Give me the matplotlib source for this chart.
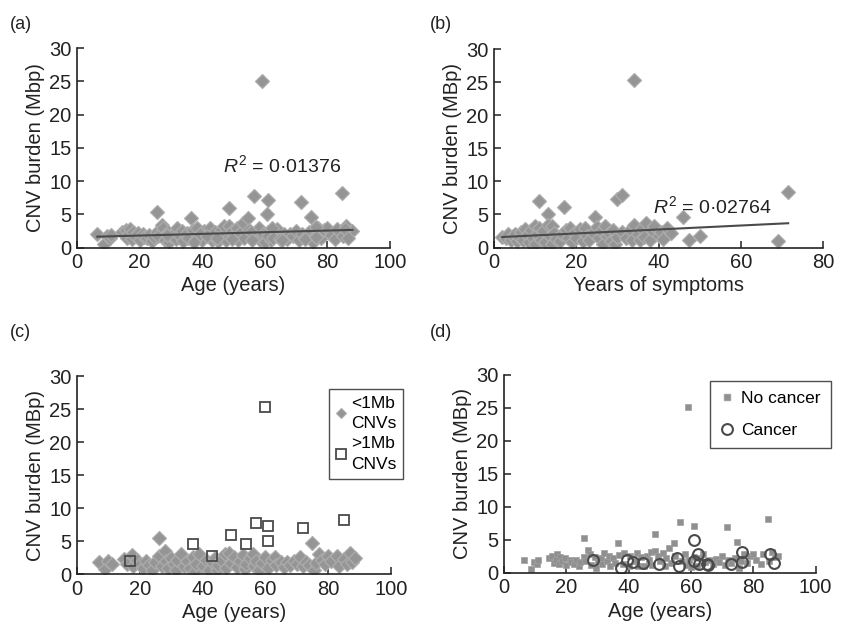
"""CNV burden vs age / years of symptoms - four panel scatter figure."""
import matplotlib
matplotlib.use("Agg")
import numpy as np
import matplotlib.pyplot as plt
from matplotlib.lines import Line2D

plt.rcParams["font.family"] = ["Liberation Sans", "DejaVu Sans"]
plt.rcParams["mathtext.fontset"] = "custom"
plt.rcParams["mathtext.rm"] = "Liberation Sans"
plt.rcParams["mathtext.it"] = "Liberation Sans:italic"

# ---- data -------------------------------------------------------------------
# (d) patients without cancer: age, total CNV burden (Mbp)
age_nocancer = [6.5, 8.5, 9.5, 10.5, 11, 14.5, 15.5, 16, 16.5, 17, 17.5, 18, 18.5,
                19.5, 20, 21, 21.5, 22.5, 23, 24, 24.5, 25.5, 25.5, 26, 27, 27.5,
                28, 29, 29.5, 30, 31, 31.5, 32, 33, 33.5, 34, 35, 35.5, 36.5, 37,
                38, 38.5, 40, 40.5, 42, 42.5, 43, 44, 45, 46, 46.5, 47, 47.5, 48.5,
                48.5, 49.5, 50, 51, 51.5, 52, 53, 53.5, 54.5, 55, 56.5, 57, 58,
                58.5, 59, 59.5, 60, 61, 61, 62, 63, 64, 64.5, 66, 67, 68, 69, 70,
                71, 71.5, 72, 73, 74, 74.9, 75.5, 76, 77, 78, 79, 80, 81, 82.5, 83,
                84.6, 85, 86, 87, 88]
cnv_nocancer = [2.0, 0.6, 1.7, 1.4, 1.9, 2.3, 2.6, 1.5, 2.0, 2.8, 1.3, 2.4, 1.8,
                2.2, 1.2, 2.0, 1.6, 1.4, 1.9, 1.0, 1.6, 5.3, 2.4, 1.8, 3.4, 2.9,
                1.2, 2.4, 0.8, 1.7, 2.2, 1.3, 3.0, 1.8, 2.5, 1.0, 2.2, 1.5, 4.5, 2.7,
                1.3, 3.0, 1.1, 2.5, 1.8, 3.0, 1.1, 2.4, 1.0, 2.6, 1.9, 3.2, 1.2, 5.9,
                3.3, 2.5, 1.8, 3.0, 1.1, 2.2, 3.7, 1.5, 4.5, 2.6, 7.7, 1.8, 2.9,
                1.2, 25.1, 2.0, 0.9, 7.1, 2.4, 1.1, 2.2, 2.8, 1.6, 2.0, 1.3, 2.1, 1.7, 2.5,
                1.2, 6.9, 2.0, 1.5, 2.3, 4.6, 0.8, 1.8, 2.9, 1.5, 2.6, 2.9, 1.9, 1.3, 2.8,
                8.2, 1.8, 3.2, 2.4, 2.5]
# (d) patients with cancer
age_cancer = [28.6, 37.5, 39.3, 41.5, 44.7, 49.6, 55.6, 56, 60.8, 60.9, 62.4, 62.7,
              65, 65.6, 72.7, 76.5, 76.5, 85.5, 86.5]
cnv_cancer = [1.9, 0.8, 2.0, 1.7, 1.5, 1.3, 2.3, 1.1, 5.0, 1.8, 2.9, 1.4,
              1.3, 1.2, 1.3, 3.1, 1.6, 2.8, 1.5]

# (a) linear fit shown on the panel: intercept, slope
fit_a = (1.55, 0.0125)
r2_a = "0·01376"

# (b) years of symptoms vs CNV burden
years_b = [2, 3, 3.5, 4, 4.5, 5, 5.5, 6, 6.5, 7, 7.5, 8, 8.5, 9, 9.5, 10, 10, 10.5,
           11, 11, 11.5, 12, 12.5, 13, 13, 13.5, 14, 14, 14.5, 15, 16, 16.5, 17,
           17.5, 18, 18.5, 19, 19.5, 20, 21, 21.5, 22, 22.5, 23, 24, 24.5, 25, 25.5,
           26, 26.5, 27, 27.5, 28, 28.5, 29, 29.5, 30, 30, 31, 31, 32, 33, 33.5, 34,
           34, 35, 35.5, 36, 36.5, 37, 38, 38.5, 39, 40, 40.5, 41, 42, 43, 46, 47.5,
           50, 69, 71.5]
cnv_b = [1.6, 1.4, 2.0, 1.2, 1.8, 2.1, 1.0, 1.6, 2.4, 1.1, 2.8, 1.9, 0.8, 2.6, 1.4,
         3.2, 0.5, 2.1, 7.0, 3.0, 1.2, 2.5, 0.9, 5.1, 3.4, 1.8, 3.2, 0.6, 2.2, 1.3,
         1.0, 2.0, 6.1, 2.6, 1.5, 3.0, 0.8, 2.2, 1.5, 2.8, 1.0, 3.0, 1.8, 1.2, 2.2,
         4.6, 3.1, 1.4, 2.5, 0.6, 3.3, 1.7, 2.2, 1.0, 2.7, 0.6, 7.3, 1.6, 8.0, 2.3,
         1.4, 2.6, 1.2, 25.3, 3.4, 2.0, 1.1, 3.0, 1.6, 3.7, 1.2, 2.6, 3.2, 1.8, 2.4,
         1.3, 3.0, 2.2, 4.6, 1.2, 1.8, 1.0, 8.4]
fit_b = (1.53, 0.030)
r2_b = "0·02764"

# (c) burden split by CNV size
age_small = [7, 9, 10, 11, 15, 16, 17.5, 18, 19, 20, 21, 22, 23, 24, 25, 26, 26, 27,
             28, 28.5, 29, 30, 31, 31.5, 32, 33, 34, 35, 36, 37, 37.5, 38, 39, 40,
             41, 42, 43, 44, 44.5, 45, 46, 47, 47.5, 48.5, 49, 50, 51, 52, 53, 53.5,
             54, 55, 56, 56.5, 57, 58, 59, 60, 61, 62, 63, 63.5, 65, 66, 67, 68, 69,
             70, 71, 72, 73, 74, 75, 75.5, 76, 77, 78, 79, 80, 81, 83, 83.5, 85, 86,
             87, 87.5, 88.5]
cnv_small = [1.8, 0.8, 2.0, 1.6, 2.3, 1.5, 2.9, 1.3, 2.2, 1.6, 1.0, 2.0, 1.4, 0.6,
             1.8, 5.4, 2.7, 1.2, 3.5, 2.0, 0.9, 2.4, 1.5, 0.6, 2.2, 3.0, 1.3, 2.0,
             1.0, 2.6, 0.5, 1.6, 3.0, 1.2, 2.2, 0.7, 1.8, 2.5, 0.6, 1.4, 2.1, 3.1,
             1.0, 3.2, 1.7, 2.6, 1.1, 2.0, 2.9, 0.8, 1.6, 2.5, 3.0, 1.2, 2.0, 0.6,
             1.7, 2.6, 1.0, 2.2, 2.6, 1.4, 1.9, 1.1, 1.8, 1.4, 2.0, 1.6, 2.6, 1.2,
             1.9, 1.4, 4.7, 0.6, 1.7, 3.1, 2.2, 1.5, 2.8, 2.0, 2.8, 1.3, 2.3, 1.6,
             3.2, 1.8, 2.4]
age_large = [17, 37, 43, 49, 54, 57, 60, 61, 61, 72, 85]
cnv_large = [2.0, 4.5, 2.8, 6.0, 4.5, 7.7, 25.3, 7.3, 5.0, 7.0, 8.2]

# combined patients for panel (a)
age_a = age_nocancer + age_cancer
cnv_a = cnv_nocancer + cnv_cancer

# ---- styling -----------------------------------------------------------------
GREY = "#959595"
EDGE = "#acacac"
DARK = "#4a4a4a"
diamond = dict(ls="none", marker="D", ms=6.8, mfc=GREY, mec=EDGE, mew=0.9)

fig = plt.figure(figsize=(8.46, 6.33), dpi=100, facecolor="white")
ax_a = fig.add_axes([0.091, 0.609, 0.370, 0.315])
ax_b = fig.add_axes([0.584, 0.609, 0.389, 0.313])
ax_c = fig.add_axes([0.091, 0.093, 0.371, 0.313])
ax_d = fig.add_axes([0.596, 0.095, 0.368, 0.313])


def style(ax, xmax, xstep, ylabel, xlabel):
    ax.set_xlim(0, xmax)
    ax.set_ylim(0, 30)
    ax.set_xticks(np.arange(0, xmax + 1, xstep))
    ax.set_yticks(np.arange(0, 31, 5))
    for s in ("top", "right"):
        ax.spines[s].set_visible(False)
    for s in ("left", "bottom"):
        ax.spines[s].set_color("#222222")
        ax.spines[s].set_linewidth(1.2)
    ax.tick_params(direction="in", length=5, width=1.1, color="#222222",
                   labelsize=14.5, labelcolor="#222222", pad=4)
    ax.set_ylabel(ylabel, fontsize=14.5, color="#222222", labelpad=3)
    ax.set_xlabel(xlabel, fontsize=14.5, color="#222222", labelpad=3)


# (a)
ax_a.plot(age_a, cnv_a, **diamond)
xs = np.array([min(age_a), max(age_a)])
ax_a.plot(xs, fit_a[0] + fit_a[1] * xs, color=DARK, lw=1.5)
ax_a.text(46.5, 12.4, r"$R^2$" + " = " + r2_a, fontsize=14, color="#222222",
          va="center")
style(ax_a, 100, 20, "CNV burden (Mbp)", "Age (years)")

# (b)
ax_b.plot(years_b, cnv_b, **diamond)
xs = np.array([min(years_b), max(years_b)])
ax_b.plot(xs, fit_b[0] + fit_b[1] * xs, color=DARK, lw=1.5)
ax_b.text(38.6, 6.2, r"$R^2$" + " = " + r2_b, fontsize=14, color="#222222",
          va="center")
style(ax_b, 80, 20, "CNV burden (MBp)", "Years of symptoms")

# (c)
ax_c.plot(age_small, cnv_small, **diamond)
ax_c.plot(age_large, cnv_large, ls="none", marker="s", ms=7.5, mfc="none",
          mec=DARK, mew=1.3)
style(ax_c, 100, 20, "CNV burden (MBp)", "Age (years)")
h_c = [Line2D([], [], ls="none", marker="D", ms=5, mfc=GREY, mec=EDGE, mew=0.8),
       Line2D([], [], ls="none", marker="s", ms=7, mfc="none", mec=DARK, mew=1.3)]
leg = ax_c.legend(h_c, ["<1Mb\nCNVs", ">1Mb\nCNVs"], loc="upper right",
                  bbox_to_anchor=(1.04, 0.935), fontsize=12.5, frameon=True,
                  fancybox=False, edgecolor="#222222", handlelength=0.6,
                  handletextpad=0.3, borderpad=0.4, labelspacing=0.3,
                  borderaxespad=0)
for t in leg.get_texts():
    t.set_linespacing(1.45)
leg.get_frame().set_linewidth(1.0)

# (d)
ax_d.plot(age_nocancer, cnv_nocancer, ls="none", marker="s", ms=4.6,
          mfc="#8f8f8f", mec="#a0a0a0", mew=0.5)
ax_d.plot(age_cancer, cnv_cancer, ls="none", marker="o", ms=7.8, mfc="none",
          mec=DARK, mew=1.5)
style(ax_d, 100, 20, "CNV burden (MBp)", "Age (years)")
h_d = [Line2D([], [], ls="none", marker="s", ms=4.6, mfc="#8f8f8f", mec="#a0a0a0"),
       Line2D([], [], ls="none", marker="o", ms=7.8, mfc="none", mec=DARK, mew=1.5)]
leg = ax_d.legend(h_d, ["No cancer", "Cancer"], loc="upper right",
                  bbox_to_anchor=(1.05, 0.97), fontsize=12.5, frameon=True,
                  fancybox=False, edgecolor="#222222", handlelength=0.8,
                  handletextpad=0.4, borderpad=0.6, labelspacing=0.95,
                  borderaxespad=0)
leg.get_frame().set_linewidth(1.0)

# panel letters
for x, y, lab in [(0.012, 0.975, "(a)"), (0.508, 0.975, "(b)"),
                  (0.012, 0.488, "(c)"), (0.508, 0.488, "(d)")]:
    fig.text(x, y, lab, fontsize=13, color="#222222", va="top")

fig.savefig("out.png", dpi=100, facecolor="white")
